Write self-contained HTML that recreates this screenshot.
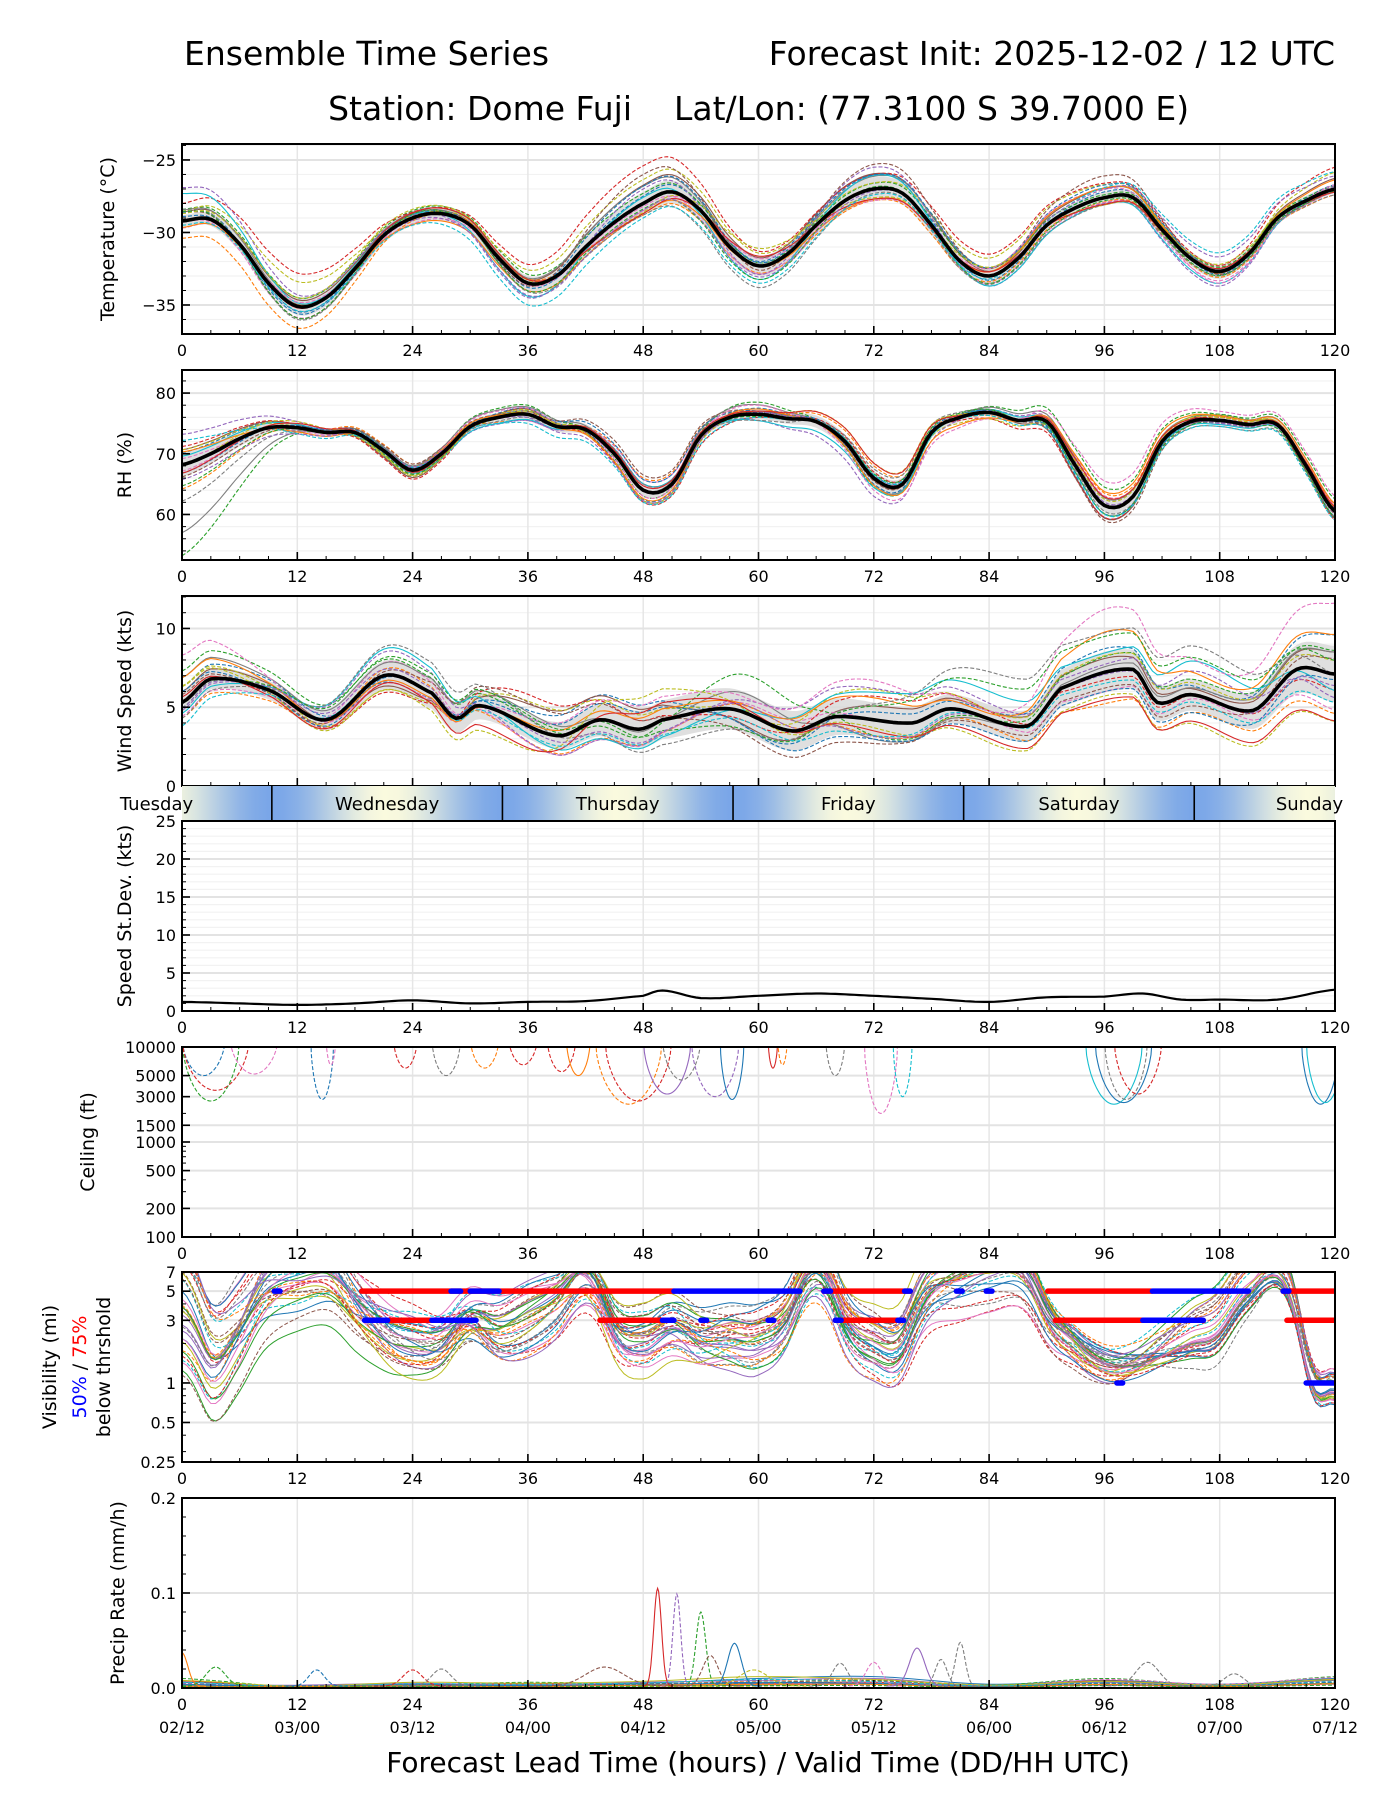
<!DOCTYPE html>
<html><head><meta charset="utf-8"><title>Ensemble Time Series</title>
<style>
html,body{margin:0;padding:0;background:#fff;}
svg text{font-family:"DejaVu Sans","Liberation Sans",sans-serif;fill:#000;}
</style></head>
<body>
<svg id="chart" xmlns="http://www.w3.org/2000/svg" width="1400" height="1800" viewBox="0 0 1400 1800">
<rect x="0" y="0" width="1400" height="1800" fill="#fff"/>
<defs>
<linearGradient id="dayGrad" x1="0" x2="1" y1="0" y2="0"></linearGradient>
</defs>
<text x="184" y="65" font-size="33">Ensemble Time Series</text>
<text x="1335" y="65" font-size="33" text-anchor="end">Forecast Init: 2025-12-02 / 12 UTC</text>
<text x="632" y="120" font-size="33" text-anchor="end">Station: Dome Fuji</text>
<text x="674" y="120" font-size="33">Lat/Lon: (77.3100 S 39.7000 E)</text>
<g id="plots"></g>
<text x="758" y="1772" font-size="28" text-anchor="middle">Forecast Lead Time (hours) / Valid Time (DD/HH UTC)</text>
</svg>
<script>
// ---------------- DATA ----------------
const H12 = [0,12,24,36,48,60,72,84,96,108,120];
const H3 = [];
for (let h = 0; h <= 120; h += 3) H3.push(h);
const xTickLabels = ['0','12','24','36','48','60','72','84','96','108','120'];
const dateLabels = ['02/12','03/00','03/12','04/00','04/12','05/00','05/12','06/00','06/12','07/00','07/12'];
const dayNames = ['Tuesday','Wednesday','Thursday','Friday','Saturday','Sunday'];
const dayBoundaries = [9.35,33.35,57.35,81.35,105.35];

const tempMean = [-29.2,-29.1,-30.8,-33.5,-35.1,-34.5,-32.5,-30.2,-29.0,-28.7,-29.5,-31.8,-33.5,-33.0,-31.0,-29.3,-28.0,-27.2,-28.5,-31.0,-32.3,-31.5,-29.5,-27.8,-27.0,-27.3,-29.5,-32.0,-33.0,-31.8,-29.5,-28.3,-27.6,-27.6,-29.8,-31.8,-32.7,-31.5,-29.0,-27.8,-27.0];
const tempSpread = [0.4,0.6,0.5,0.5,0.8,0.7,0.8,0.5,0.4,0.5,0.3];
const tempDev0 = [0.3,-0.5,0.2,-0.3,0.5,0.3,1.0,-0.3,0.4,-0.2,0.3];
const tempDev1 = [-1.2,-1.5,-0.2,0.3,-0.8,-0.5,-0.8,-0.4,-0.3,-0.4,-0.4];
const tempDev2 = [0.8,0.6,0.5,0.6,0.7,0.2,0.4,0.5,0.2,0.3,0.2];
const tempDev3 = [1.2,2.3,0.4,1.3,2.6,1.0,1.0,1.5,1.0,0.4,1.5];
const tempDev4 = [2.3,0.8,0.2,-1.0,1.0,-0.6,1.5,-0.7,-0.4,-1.0,0.2];
const tempDev5 = [0.6,-0.8,0.1,-0.2,2.0,-0.3,1.7,0.5,1.5,-0.2,-0.2];
const tempDev6 = [-0.5,0.3,-0.4,0.0,-0.5,0.5,-0.8,0.5,0.6,-0.8,0.3];
const tempDev7 = [0.8,-0.9,0.3,-0.6,-0.8,-1.5,-0.3,-0.6,-0.5,-0.3,-0.4];
const tempDev8 = [0.5,0.6,0.6,0.2,-0.6,1.2,-0.6,0.6,-0.5,0.5,-0.1];
const tempDev9 = [-0.3,-0.3,-0.5,-1.5,-1.0,-1.2,-0.4,-0.2,0.7,1.3,1.2];

const rhMean = [68.2,70,72.5,74.3,74.3,73.5,73.5,70.5,67.3,70,74.5,76,76.5,74.5,74,70,64,65,73,76,76.5,75.8,75.3,72,66,65,73.5,76,76.8,75.5,75.3,68,61.5,63,72,75.3,75.5,74.8,74.8,68,60.5];
const rhSpread = [2,0.6,0.8,0.8,1,0.8,1.2,0.6,1,0.6,1];
const rhDev0 = [2,0.5,-1,1,-1.5,1,-1,0.5,-2,1,-1];
const rhDev1 = [-4,0,1,-1,2,0.5,2,-0.5,2,-0.5,1];
const rhDev2 = [-15,-1,0.5,1.5,-1,2,-1.5,1,3,1,2];
const rhDev3 = [3,0.5,-1.5,0.5,-2,-0.5,1,-1,-2,0.5,-1.5];
const rhDev4 = [5,1,-0.5,-1,1,-1,-3,0.5,0.5,-0.5,0.5];
const rhDev5 = [-2,0,1,0.5,2.5,0.5,-0.5,0.5,-2.5,0,-0.5];
const rhDev6 = [1,-0.5,0.5,1,-1,1.5,-2,-1,4,1.5,2.5];
const rhDev7 = [-6,-0.5,-0.5,-0.5,1,-1,1.5,0.5,-1,-1,-1];
const rhDev8 = [0,1,-1,0.5,0,0.5,2.5,0,1,0.5,0.5];
const rhDev9 = [4,-1,0.5,-1.5,-2,-0.5,0.5,-0.5,-1.5,-1,-1.5];

const windHours = [0,3,9,15,21,26,28.5,31,39,43.5,47.5,50,57,63.5,68,76,80,88,91.5,99,101.5,105,111.5,116,120];
const windMean = [5.3,6.8,6.1,4.2,7.0,5.9,4.3,5.1,3.2,4.2,3.6,4.2,4.9,3.5,4.4,4.0,4.9,3.8,6.2,7.4,5.3,5.8,4.8,7.4,7.1];
const windSpread = [0.7,0.6,1,0.8,1.2,1.3,1.1,0.9,1.3,1,1.8];
const windDev0 = [1,0.5,-0.5,1,1.5,-1,0.5,0.5,1.5,0.5,2.5];
const windDev1 = [-1,-0.5,0.5,-1,-1,0.5,-1,-0.5,-2,-1,-2.5];
const windDev2 = [2,1,1,0.5,-0.5,2.5,-1,0,1,1,1.5];
const windDev3 = [0,-0.3,-1,2,0.5,-0.5,1.5,0.5,-0.5,0,-1];
const windDev4 = [-0.5,0.5,1.5,-1,-1,1,2,1,0.5,1.5,-1.5];
const windDev5 = [0.5,-0.3,0.5,1.5,0.5,-1.5,-1.5,-0.5,-1,-0.5,1];
const windDev6 = [3,0.2,-0.5,0.5,1.5,1,2.5,0.5,4,2,4.5];
const windDev7 = [-1,0.5,2,0.5,-1.5,-1,1,3,2.5,3,0];
const windDev8 = [1,-0.5,-1,-1.5,2,0,-0.5,-1.5,-1.5,-2,-3];
const windDev9 = [-1.5,0,0,-0.5,-1,-0.5,-1,0,-0.7,-0.5,-1.8];

const sdHours = [0,6,12,18,24,30,36,42,48,50,54,60,66,72,78,84,90,96,100,104,108,114,120];
const sdValues = [1.2,1.0,0.8,1.0,1.4,1.0,1.2,1.3,2.0,2.7,1.7,2.0,2.3,2.0,1.6,1.2,1.8,1.9,2.3,1.5,1.5,1.5,2.8];

const ceilStart = [0,0,0,5,13.4,15,22,26,30,34,38,40,43,44,48,50,53,56,61,62,67,71,74,94,95,96,97,116.5,117];
const ceilEnd   = [4.5,6,7,10,15.8,16,24.5,29,33,37,41,42.5,50,51,53,54,58,58.5,62,63,69,74.5,76,100,101,100.5,102,120.5,121];
const ceilMin   = [5000,2700,3500,5200,2800,6500,6000,5000,6000,6500,5500,5000,2500,2700,3200,4500,3000,2800,6000,6500,5000,2000,3000,2500,2600,2800,3200,2500,2600];
const ceilColor = [0,2,3,6,0,6,3,7,1,3,3,1,1,3,4,7,4,0,3,1,7,6,9,9,0,7,3,0,9];
const ceilDash  = [1,1,1,1,1,1,1,1,1,1,1,0,1,1,0,1,1,0,0,1,1,1,1,0,0,1,1,0,0];

const visMed = [5,2,3,6,7,7,4,2.5,2,2,3,2.5,3,4,6,2.5,2,2.5,2,2,2,3,7,3,2,2,5,6,7,7,3,1.8,1.3,1.3,1.6,2,2.5,5,7,1.5,0.9];
const visDev0 = [0,-1,0.5,-0.5,0.5,1,-0.5,0,0.5,-0.5,0];
const visDev1 = [-1.5,1,-0.5,0.5,-0.3,-0.5,0.5,1,-0.3,1,0.3];
const visDev2 = [-2,-1.5,-0.8,0.3,0.7,0.5,-0.4,0.5,0.2,-0.5,-0.2];
const visDev3 = [1,0.5,1,-0.8,-0.5,0.3,-0.8,-1,-0.2,0.5,0.5];
const visDev4 = [-1,0.8,0.3,1,0.2,-0.8,0.3,0.5,0.4,-0.3,-0.1];
const visDev5 = [0.5,-0.5,-0.6,-0.3,1,0.6,0.8,-0.5,-0.4,0.8,0.2];
const visDev6 = [-1.8,-0.3,0.6,0.8,-0.6,-0.3,-0.5,0.3,0.1,0.3,-0.3];
const visDev7 = [0.8,1.5,-0.2,-0.5,0.4,1,0.4,-0.8,0.3,-0.8,0.4];
const visDev8 = [-0.5,0.2,-0.9,0.2,-0.9,0.2,1,1.2,-0.1,0.2,-0.2];
const visDev9 = [0.3,-0.8,0.8,-0.2,0.8,-0.6,-0.2,0.8,0.5,1.2,0.1];
const visDev10 = [-1.2,0.4,-0.3,0.9,-0.2,0.9,0.6,-0.3,-0.3,-0.2,-0.4];
const visDev11 = [1.2,-0.6,0.4,-0.9,0.3,-0.4,-0.9,0.4,0.6,0.6,0.3];
const vis75Row5 = [[18.7,51.2],[66.8,75.8],[90.1,100.9],[114.6,120]];
const vis50Row5 = [[9.6,10.2],[28,29],[30,33],[51.2,64.3],[66.8,67.5],[75.2,75.8],[80.6,81.2],[83.7,84.3],[101,111],[114.6,115.2]];
const vis75Row3 = [[21.4,26],[43.5,50],[68,75],[90.9,100],[115,120]];
const vis50Row3 = [[19,21.4],[26,30.6],[50,51.2],[54,54.6],[61,61.6],[68,68.6],[74.5,75.1],[100,106.3]];
const vis50Row1 = [[97.3,97.9],[117,120]];

const precipBase0 = [0.006,0.002,0.004,0.004,0.005,0.01,0.012,0.004,0.008,0.004,0.01];
const precipBase1 = [0.01,0.001,0.003,0.006,0.004,0.006,0.008,0.003,0.01,0.003,0.012];
const precipBase2 = [0.003,0.003,0.005,0.003,0.006,0.008,0.01,0.002,0.006,0.002,0.008];
const precipBase3 = [0.004,0.001,0.002,0.003,0.003,0.004,0.006,0.002,0.009,0.004,0.011];
const precipBase4 = [0.008,0.002,0.006,0.005,0.007,0.012,0.009,0.003,0.007,0.003,0.009];
const precipBase5 = [0.002,0.002,0.003,0.002,0.004,0.005,0.005,0.001,0.005,0.002,0.006];
const spikeHour = [0,3.5,14,24,27,44,49.5,51.5,54,55,57.5,59.5,68.5,72,76.5,79,81,100.5,109.5];
const spikeVal  = [0.035,0.02,0.017,0.017,0.018,0.02,0.103,0.097,0.078,0.032,0.045,0.017,0.024,0.025,0.04,0.028,0.046,0.025,0.013];
const spikeWidth= [0.6,1,0.8,1,1,2,0.4,0.4,0.5,0.8,0.7,1.5,0.8,0.8,0.8,0.6,0.5,1.2,1];
const spikeColor= [1,2,0,3,7,5,3,4,2,5,0,8,7,6,4,7,7,7,7];
const spikeDash = [0,1,1,1,1,1,0,1,1,1,0,1,1,1,0,1,1,1,1];

// ---------------- RENDER ----------------
const NS = 'http://www.w3.org/2000/svg';
const colors = ['#1f77b4','#ff7f0e','#2ca02c','#d62728','#9467bd','#8c564b','#e377c2','#7f7f7f','#bcbd22','#17becf'];
const X0 = 182, X1 = 1335;
function xs(h){ return X0 + h*(X1-X0)/120; }
const plots = document.getElementById('plots');
function mk(tag, attrs, parent){
  const e = document.createElementNS(NS, tag);
  for (const k in attrs) e.setAttribute(k, attrs[k]);
  (parent||plots).appendChild(e);
  return e;
}
function cr(hs, vs, h){
  let i = 0;
  while (i < hs.length-2 && h > hs[i+1]) i++;
  const p0 = vs[Math.max(i-1,0)], p1 = vs[i], p2 = vs[i+1], p3 = vs[Math.min(i+2, vs.length-1)];
  let t = (h-hs[i])/(hs[i+1]-hs[i]); t = Math.max(0, Math.min(1, t));
  const t2 = t*t, t3 = t2*t;
  return 0.5*((2*p1)+(-p0+p2)*t+(2*p0-5*p1+4*p2-p3)*t2+(-p0+3*p1-3*p2+p3)*t3);
}
function pathFrom(fn, ys, h0, h1, step){
  let d = '';
  for (let h = h0; h <= h1+1e-9; h += step){
    const v = fn(h);
    d += (d ? 'L' : 'M') + xs(h).toFixed(1) + ',' + ys(v).toFixed(1);
  }
  return d;
}
let clipN = 0;
function panel(name, top, bot){
  const id = 'clip' + (clipN++);
  const cp = mk('clipPath', {id: id}, document.querySelector('defs'));
  mk('rect', {x: X0, y: top, width: X1-X0, height: bot-top}, cp);
  const g = mk('g', {'clip-path': 'url(#' + id + ')'});
  
  
  return g;
}
function xGrid(g, top, bot){
  for (let h = 12; h < 120; h += 12){
    const l = mk('line', {x1: xs(h), x2: xs(h), y1: top, y2: bot, stroke: '#e6e6e6', 'stroke-width': 1.5}, g);
    
    
  }
}
function hGrid(g, y, major){
  const l = mk('line', {x1: X0, x2: X1, y1: y, y2: y, stroke: major ? '#e3e3e3' : '#f2f2f2', 'stroke-width': major ? 2 : 1.2}, g);
  
  
}
function frame(name, top, bot, withLabels, minorY){
  for (let h = 0; h <= 120; h += 3){
    const major = h % 12 === 0;
    const len = major ? 8 : 4;
    mk('line', {x1: xs(h), x2: xs(h), y1: bot, y2: bot-len, stroke: '#000', 'stroke-width': major ? 1.6 : 1});
  }
  (minorY||[]).forEach(y => mk('line', {x1: X0, x2: X0+4, y1: y, y2: y, stroke: '#000', 'stroke-width': 1}));
  const r = mk('rect', {x: X0, y: top, width: X1-X0, height: bot-top, fill: 'none', stroke: '#000', 'stroke-width': 2});
  
  
  if (withLabels){
    xTickLabels.forEach((t, i) => {
      const tx = mk('text', {x: xs(H12[i]), y: bot+22, 'font-size': 16, 'text-anchor': 'middle'});
      tx.textContent = t;
      
      
    });
  }
}
function yTick(name, y, label){
  mk('line', {x1: X0, x2: X0+8, y1: y, y2: y, stroke: '#000', 'stroke-width': 1.6});
  const t = mk('text', {x: X0-6, y: y+6, 'font-size': 16, 'text-anchor': 'end'});
  t.textContent = label;
  
  
}
function yTitle(name, x, cy, text, fill){
  const t = mk('text', {x: 0, y: 0, 'font-size': 19, 'text-anchor': 'middle', transform: 'translate(' + x + ',' + cy + ') rotate(-90)'});
  if (fill) t.setAttribute('fill', fill);
  t.textContent = text;
  
  
  return t;
}
function ensemblePanel(name, top, bot, ymin, ymax, hours, mean, spread, devs, clampMin, majors, minorStep, title, titleX){
  const ys = v => bot - (v-ymin)/(ymax-ymin)*(bot-top);
  const g = panel(name, top, bot);
  for (let v = Math.ceil(ymin/minorStep)*minorStep; v <= ymax; v += minorStep) hGrid(g, ys(v), false);
  xGrid(g, top, bot);
  majors.forEach(v => hGrid(g, ys(v), true));
  const meanF = h => cr(hours, mean, h);
  let d = '';
  for (let h = 0; h <= 120; h += 0.5) d += (d ? 'L' : 'M') + xs(h).toFixed(1) + ',' + ys(meanF(h)+cr(H12, spread, h)).toFixed(1);
  for (let h = 120; h >= 0; h -= 0.5) d += 'L' + xs(h).toFixed(1) + ',' + ys(meanF(h)-cr(H12, spread, h)).toFixed(1);
  const band = mk('path', {d: d + 'Z', fill: '#d9d9d9', opacity: 0.85}, g);
  
  
  devs.forEach((dev, i) => {
    [0, 1].forEach(k => {
      const f = h => Math.max(clampMin, meanF(h) + cr(H12, dev, h) * (k ? 0.7 : 1) + (k ? cr(H12, devs[(i+3)%devs.length], h)*0.35 : 0));
      const p = mk('path', {d: pathFrom(f, ys, 0, 120, 0.5), fill: 'none', stroke: colors[(i + k*5) % 10], 'stroke-width': 1.1}, g);
      if (k === 0 || i % 2) p.setAttribute('stroke-dasharray', '4,2');
      
      
    });
  });
  const m = mk('path', {d: pathFrom(meanF, ys, 0, 120, 0.5), fill: 'none', stroke: '#000', 'stroke-width': 3.6, 'stroke-linejoin': 'round'}, g);
  
  
  const minors = [];
  for (let v = Math.ceil(ymin/minorStep)*minorStep; v <= ymax; v += minorStep) minors.push(ys(v));
  frame(name, top, bot, name !== 'wind', minors);
  majors.forEach(v => yTick(name, ys(v), (v < 0 ? '\u2212' + (-v) : String(v))));
  yTitle(name, titleX, (top+bot)/2, title);
}

ensemblePanel('temperature', 144, 334, -37, -23.9, H3, tempMean, tempSpread,
  [tempDev0,tempDev1,tempDev2,tempDev3,tempDev4,tempDev5,tempDev6,tempDev7,tempDev8,tempDev9], -99, [-35,-30,-25], 1, 'Temperature (°C)', 114);
ensemblePanel('rh', 370, 560, 52.5, 83.8, H3, rhMean, rhSpread,
  [rhDev0,rhDev1,rhDev2,rhDev3,rhDev4,rhDev5,rhDev6,rhDev7,rhDev8,rhDev9], 0, [60,70,80], 2, 'RH (%)', 131);
ensemblePanel('wind', 596, 786, 0, 12.06, windHours, windMean, windSpread,
  [windDev0,windDev1,windDev2,windDev3,windDev4,windDev5,windDev6,windDev7,windDev8,windDev9], 0.3, [0,5,10], 1, 'Wind Speed (kts)', 131);

// Day band
(function(){
  const top = 786, bot = 821;
  const grad = document.getElementById('dayGrad');
  for (let h = 0; h <= 120; h += 1.5){
    const phase = Math.cos((h - 9.35) / 24 * 2 * Math.PI);
    const w = (phase + 1) / 2;
    const r = Math.round(250 - w*(250-122)), gg = Math.round(250 - w*(250-166)), b = Math.round(222 - w*(222-232));
    mk('stop', {offset: h/120, 'stop-color': 'rgb(' + r + ',' + gg + ',' + b + ')'}, grad);
  }
  const rect = mk('rect', {x: X0, y: top, width: X1-X0, height: bot-top, fill: 'url(#dayGrad)'});
  
  
  dayBoundaries.forEach(h => {
    const l = mk('line', {x1: xs(h), x2: xs(h), y1: top, y2: bot, stroke: '#000', 'stroke-width': 1.6});
    
    
  });
  dayNames.forEach((n, i) => {
    const t = mk('text', {x: xs(-2.65 + 24*i), y: top+24, 'font-size': 18, 'text-anchor': 'middle'});
    t.textContent = n;
    
    
  });
})();

// Panel 4: stdev
(function(){
  const top = 821, bot = 1011, ymin = 0, ymax = 25;
  const ys = v => bot - (v-ymin)/(ymax-ymin)*(bot-top);
  const g = panel('stdev', top, bot);
  const minors = [];
  for (let v = 1; v < 25; v++){ if (v % 5) { hGrid(g, ys(v), false); minors.push(ys(v)); } }
  xGrid(g, top, bot);
  [0,5,10,15,20,25].forEach(v => hGrid(g, ys(v), true));
  const p = mk('path', {d: pathFrom(h => cr(sdHours, sdValues, h), ys, 0, 120, 0.5), fill: 'none', stroke: '#000', 'stroke-width': 2.2}, g);
  
  
  frame('stdev', top, bot, true, minors);
  [0,5,10,15,20,25].forEach(v => yTick('stdev', ys(v), String(v)));
  yTitle('stdev', 131, (top+bot)/2, 'Speed St.Dev. (kts)');
})();

// Panel 5: ceiling (log)
(function(){
  const top = 1047, bot = 1237;
  const ys = v => bot - (Math.log10(v) - 2) / 2 * (bot-top);
  const g = panel('ceiling', top, bot);
  xGrid(g, top, bot);
  const labs = [100,200,500,1000,1500,3000,5000,10000];
  labs.forEach(v => hGrid(g, ys(v), true));
  ceilStart.forEach((s, i) => {
    const e = ceilEnd[i], lo = Math.log10(ceilMin[i]), hi = Math.log10(13000);
    const f = h => Math.pow(10, hi - (hi-lo) * Math.pow(Math.max(0, Math.sin(Math.PI*(h-s)/(e-s))), 0.5));
    const p = mk('path', {d: pathFrom(f, ys, s, e, (e-s)/40), fill: 'none', stroke: colors[ceilColor[i]], 'stroke-width': 1.1}, g);
    if (ceilDash[i]) p.setAttribute('stroke-dasharray', '4,2');
    
    
  });
  const minors = [300,400,600,700,800,900,2000].map(ys);
  frame('ceiling', top, bot, true, minors);
  labs.forEach(v => yTick('ceiling', ys(v), String(v)));
  yTitle('ceiling', 94, (top+bot)/2, 'Ceiling (ft)');
})();

// Panel 6: visibility (log)
(function(){
  const top = 1272, bot = 1462;
  const lmin = Math.log10(0.25), lmax = Math.log10(7);
  const ys = v => bot - (Math.log10(v) - lmin) / (lmax - lmin) * (bot-top);
  const g = panel('visibility', top, bot);
  xGrid(g, top, bot);
  const labs = [0.25,0.5,1,3,5,7];
  labs.forEach(v => hGrid(g, ys(v), true));
  const devs = [visDev0,visDev1,visDev2,visDev3,visDev4,visDev5,visDev6,visDev7,visDev8,visDev9,visDev10,visDev11];
  devs.forEach((dev, i) => {
    [0, 1, 2].forEach(k => {
      const f = h => Math.max(0.26, Math.min(8, cr(H3, visMed, h) * Math.pow(2, cr(H12, dev, h) * (1 - 0.3*k) + (k ? 0.4*cr(H12, devs[(i+k*4)%12], h) : 0))));
      const p = mk('path', {d: pathFrom(f, ys, 0, 120, 0.5), fill: 'none', stroke: colors[(i + k*3) % 10], 'stroke-width': 1}, g);
      if ((i + k) % 2) p.setAttribute('stroke-dasharray', '4,2');
      
      
    });
  });
  function bars(segs, v, col, nm){
    segs.forEach(s => {
      const l = mk('line', {x1: xs(s[0]), x2: xs(s[1]), y1: ys(v), y2: ys(v), stroke: col, 'stroke-width': 5.5, 'stroke-linecap': 'round'}, g);
      
      
    });
  }
  bars(vis75Row5, 5, '#ff0000', 'vis-75pct-below-5mi');
  bars(vis75Row3, 3, '#ff0000', 'vis-75pct-below-3mi');
  bars(vis50Row5, 5, '#0000ff', 'vis-50pct-below-5mi');
  bars(vis50Row3, 3, '#0000ff', 'vis-50pct-below-3mi');
  bars(vis50Row1, 1, '#0000ff', 'vis-50pct-below-1mi');
  const minors = [0.3,0.4,0.6,0.7,0.8,0.9,2,4,6].map(ys);
  frame('visibility', top, bot, true, minors);
  labs.forEach(v => yTick('visibility', ys(v), String(v)));
  yTitle('visibility', 56, (top+bot)/2, 'Visibility (mi)');
  const t2 = mk('text', {x: 0, y: 0, 'font-size': 19, 'text-anchor': 'middle', transform: 'translate(86,' + (top+bot)/2 + ') rotate(-90)'});
  t2.innerHTML = '<tspan fill="#0000ff">50%</tspan> / <tspan fill="#ff0000">75%</tspan>';
  
  
  yTitle('visibility-sub', 110, (top+bot)/2, 'below thrshold');
})();

// Panel 7: precip
(function(){
  const top = 1498, bot = 1688, ymin = 0, ymax = 0.2;
  const ys = v => bot - (v-ymin)/(ymax-ymin)*(bot-top);
  const g = panel('precip', top, bot);
  xGrid(g, top, bot);
  [0, 0.1, 0.2].forEach(v => hGrid(g, ys(v), true));
  const bases = [precipBase0,precipBase1,precipBase2,precipBase3,precipBase4,precipBase5];
  bases.forEach((b, i) => {
    [0,1,2].forEach(k => {
      const f = h => Math.max(0, cr(H12, b, h) * (1 - 0.25*k));
      const p = mk('path', {d: pathFrom(f, ys, 0, 120, 1), fill: 'none', stroke: colors[(i*2 + k) % 10], 'stroke-width': 1}, g);
      if ((i+k) % 2) p.setAttribute('stroke-dasharray', '4,2');
      
      
    });
  });
  spikeHour.forEach((sh, i) => {
    const f = h => 0.002 + spikeVal[i] * Math.exp(-0.5 * Math.pow((h - sh) / spikeWidth[i], 2));
    const h0 = Math.max(0, sh - 4*spikeWidth[i]), h1 = Math.min(120, sh + 4*spikeWidth[i]);
    const p = mk('path', {d: pathFrom(f, ys, h0, h1, 0.1), fill: 'none', stroke: colors[spikeColor[i]], 'stroke-width': 1.1}, g);
    if (spikeDash[i]) p.setAttribute('stroke-dasharray', '4,2');
    
    
  });
  const minors = [];
  for (let v = 0.02; v < 0.2; v += 0.02) minors.push(ys(v));
  frame('precip', top, bot, true, minors);
  ['0.0','0.1','0.2'].forEach((s, i) => yTick('precip', ys(i*0.1), s));
  dateLabels.forEach((d, i) => {
    const t = mk('text', {x: xs(H12[i]), y: bot+45, 'font-size': 16, 'text-anchor': 'middle'});
    t.textContent = d;
    
    
  });
  yTitle('precip', 124, (top+bot)/2, 'Precip Rate (mm/h)');
})();
</script>
</body></html>
